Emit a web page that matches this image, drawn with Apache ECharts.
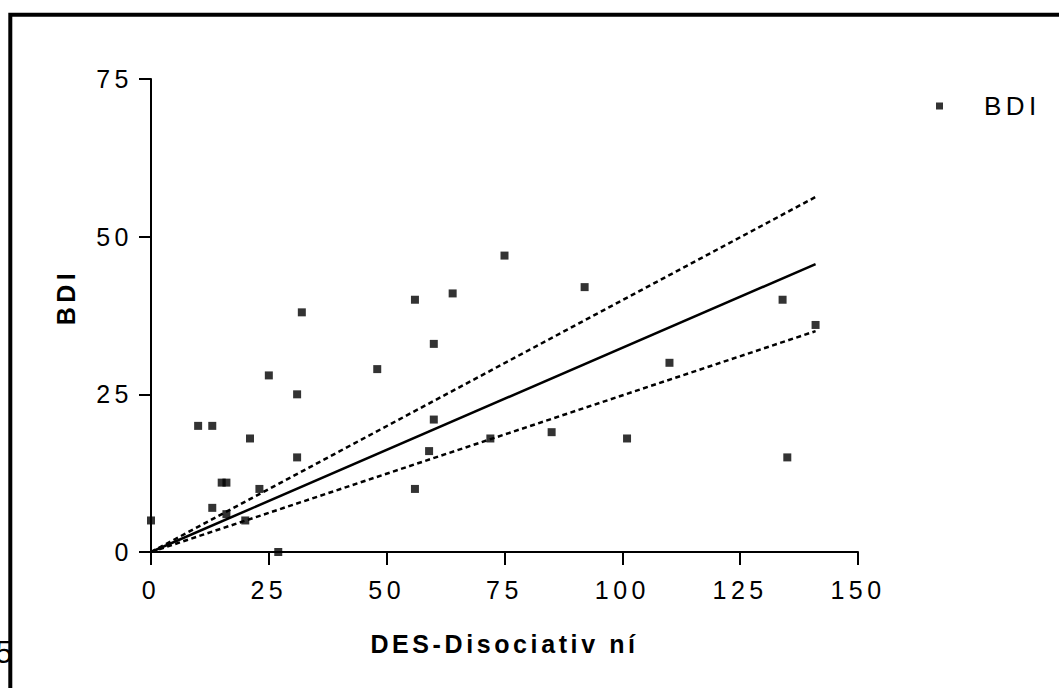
<!DOCTYPE html>
<html>
<head>
<meta charset="utf-8">
<script src="https://cdn.jsdelivr.net/npm/echarts@6/dist/echarts.min.js"></script>
<style>
  html, body { margin: 0; padding: 0; background: #fff; }
  #chart { width: 1059px; height: 688px; }
  /* wide character spacing on every label */
  #chart text { letter-spacing: 4.5px; }
</style>
</head>
<body>
<div id="chart"></div>
<script>
// DES dissociation score vs. BDI score, one entry per subject
const desX = [0, 10, 13, 13, 15, 16, 16, 20, 21, 23, 25, 27, 31, 31, 32, 48, 56, 56, 59, 60, 60, 64, 72, 75, 85, 92, 101, 110, 134, 135, 141];
const bdiY = [5, 20, 20, 7, 11, 11, 6, 5, 18, 10, 28, 0, 25, 15, 38, 29, 40, 10, 16, 33, 21, 41, 18, 47, 19, 42, 18, 30, 40, 15, 36];

// axis ticks
const xTicks = [0, 25, 50, 75, 100, 125, 150];
const yTicks = [0, 25, 50, 75];

// labels
const xTitle = 'DES-Disociativ ní';
const yTitle = 'BDI';
const seriesName = 'BDI';

// two-sided 95% t critical value for n - 1 = 30 degrees of freedom
const T_CRIT = 2.042;

// least-squares line forced through the origin, with 95% band on the slope
function fitThroughOrigin(xs, ys) {
  let sxy = 0, sxx = 0, syy = 0;
  for (let i = 0; i < xs.length; i++) {
    sxy += xs[i] * ys[i];
    sxx += xs[i] * xs[i];
    syy += ys[i] * ys[i];
  }
  const slope = sxy / sxx;
  const ssRes = syy - slope * sxy;
  const se = Math.sqrt(ssRes / (xs.length - 1) / sxx);
  return { slope, se };
}

const fit = fitThroughOrigin(desX, bdiY);
const xEnd = Math.max(...desX);
const lineOf = (k) => [[0, 0], [xEnd, k * xEnd]];

const FONT = "'Liberation Sans', Arial, Helvetica, sans-serif";
const points = desX.map((x, i) => [x, bdiY[i]]);

const chart = echarts.init(document.getElementById('chart'), null, { renderer: 'svg' });

chart.setOption({
  backgroundColor: '#fff',
  animation: false,
  grid: { left: 151, right: 201, top: 79, bottom: 136 },
  legend: {
    data: [seriesName],
    left: 931,
    top: 88,
    icon: 'rect',
    itemWidth: 7,
    itemHeight: 7,
    textStyle: {
      fontFamily: FONT, fontSize: 26, color: '#000',
      padding: [20, 0, 0, 36]
    }
  },
  xAxis: {
    type: 'value',
    min: xTicks[0],
    max: xTicks[xTicks.length - 1],
    interval: xTicks[1] - xTicks[0],
    name: xTitle,
    nameLocation: 'middle',
    nameGap: 92,
    nameTextStyle: {
      fontFamily: FONT, fontSize: 25, fontWeight: 'bold', color: '#000',
      verticalAlign: 'middle'
    },
    axisLine: { show: true, onZero: false, lineStyle: { color: '#000', width: 2 } },
    axisTick: { show: true, length: 13, lineStyle: { color: '#000', width: 2 } },
    axisLabel: { fontFamily: FONT, fontSize: 25, color: '#000', margin: 25 },
    splitLine: { show: false }
  },
  yAxis: {
    type: 'value',
    min: yTicks[0],
    max: yTicks[yTicks.length - 1],
    interval: yTicks[1] - yTicks[0],
    axisLine: { show: true, onZero: false, lineStyle: { color: '#000', width: 2 } },
    axisTick: { show: true, length: 12, lineStyle: { color: '#000', width: 2 } },
    axisLabel: { fontFamily: FONT, fontSize: 25, color: '#000', margin: 18 },
    splitLine: { show: false }
  },
  graphic: [
    {
      type: 'text',
      x: 66, y: 297,
      rotation: Math.PI / 2,
      z: 5,
      style: {
        text: yTitle, fontFamily: FONT, fontSize: 25, fontWeight: 'bold',
        fill: '#000', align: 'center', verticalAlign: 'middle'
      }
    },
    {
      type: 'text',
      x: 17, y: 652,
      z: 5,
      style: {
        text: '5', fontFamily: FONT, fontSize: 31,
        fill: '#000', align: 'right', verticalAlign: 'middle'
      }
    },
    {
      type: 'rect',
      z: 10,
      shape: { x: 10.3, y: 14.7, width: 1200, height: 800 },
      style: { fill: 'none', stroke: '#000', lineWidth: 4 }
    }
  ],
  series: [
    {
      name: seriesName,
      type: 'scatter',
      symbol: 'rect',
      symbolSize: 8,
      itemStyle: { color: '#000' },
      data: points,
      z: 3
    },
    {
      name: 'fit',
      type: 'line',
      data: lineOf(fit.slope),
      showSymbol: false,
      lineStyle: { color: '#000', width: 2.5 },
      z: 2
    },
    {
      name: 'upper95',
      type: 'line',
      data: lineOf(fit.slope + T_CRIT * fit.se),
      showSymbol: false,
      lineStyle: { color: '#000', width: 2.5, type: [5, 3.5] },
      z: 2
    },
    {
      name: 'lower95',
      type: 'line',
      data: lineOf(fit.slope - T_CRIT * fit.se),
      showSymbol: false,
      lineStyle: { color: '#000', width: 2.5, type: [5, 3.5] },
      z: 2
    }
  ]
});

// the axis title is set a little tighter than the tick labels
document.querySelectorAll('#chart text').forEach((t) => {
  if (t.textContent === xTitle) t.style.letterSpacing = '3.6px';
});
</script>
</body>
</html>
